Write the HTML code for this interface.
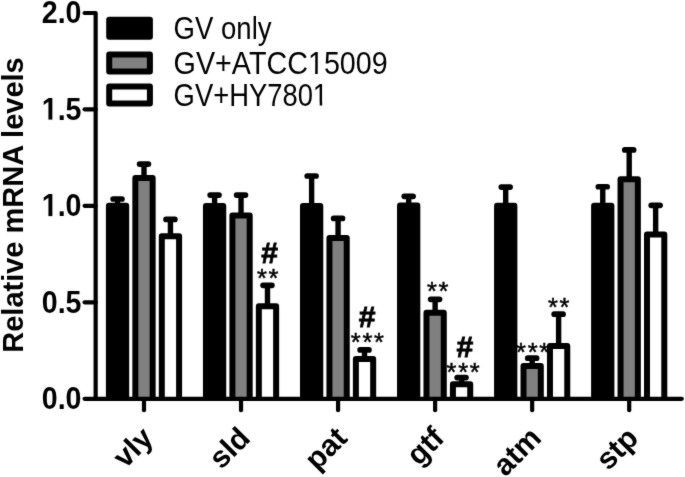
<!DOCTYPE html><html><head><meta charset="utf-8"><style>html,body{margin:0;padding:0;background:#fff;}svg{display:block;}text{font-family:"Liberation Sans",Arial,sans-serif;}</style></head><body>
<svg width="685" height="477" viewBox="0 0 685 477">
<defs><filter id="soft" color-interpolation-filters="sRGB" x="0" y="0" width="685" height="477" filterUnits="userSpaceOnUse"><feConvolveMatrix order="3" kernelMatrix="0.02 0.06 0.02 0.06 0.68 0.06 0.02 0.06 0.02" edgeMode="duplicate"/></filter></defs>
<rect width="685" height="477" fill="#fff"/>
<g filter="url(#soft)">
<line x1="117.55" y1="205.70" x2="117.55" y2="199.00" stroke="#000" stroke-width="5.4"/>
<line x1="113.15" y1="199.00" x2="121.95" y2="199.00" stroke="#000" stroke-width="5.7" stroke-linecap="round"/>
<path d="M108.90 398.8 V205.70 H126.20 V398.8 Z" fill="#000" stroke="none"/>
<path d="M108.90 398.8 V205.70 H126.20 V398.8" fill="none" stroke="#000" stroke-width="6.0" stroke-linejoin="round"/>
<line x1="144.00" y1="178.10" x2="144.00" y2="164.05" stroke="#000" stroke-width="5.4"/>
<line x1="139.60" y1="164.05" x2="148.40" y2="164.05" stroke="#000" stroke-width="5.7" stroke-linecap="round"/>
<path d="M135.35 398.8 V178.10 H152.65 V398.8 Z" fill="#808080" stroke="none"/>
<path d="M135.35 398.8 V178.10 H152.65 V398.8" fill="none" stroke="#000" stroke-width="6.0" stroke-linejoin="round"/>
<line x1="170.45" y1="236.30" x2="170.45" y2="219.40" stroke="#000" stroke-width="5.4"/>
<line x1="166.05" y1="219.40" x2="174.85" y2="219.40" stroke="#000" stroke-width="5.7" stroke-linecap="round"/>
<path d="M161.80 398.8 V236.30 H179.10 V398.8 Z" fill="#fff" stroke="none"/>
<path d="M161.80 398.8 V236.30 H179.10 V398.8" fill="none" stroke="#000" stroke-width="6.0" stroke-linejoin="round"/>
<line x1="214.59" y1="205.90" x2="214.59" y2="195.10" stroke="#000" stroke-width="5.4"/>
<line x1="210.19" y1="195.10" x2="218.99" y2="195.10" stroke="#000" stroke-width="5.7" stroke-linecap="round"/>
<path d="M205.94 398.8 V205.90 H223.24 V398.8 Z" fill="#000" stroke="none"/>
<path d="M205.94 398.8 V205.90 H223.24 V398.8" fill="none" stroke="#000" stroke-width="6.0" stroke-linejoin="round"/>
<line x1="241.04" y1="215.40" x2="241.04" y2="195.10" stroke="#000" stroke-width="5.4"/>
<line x1="236.64" y1="195.10" x2="245.44" y2="195.10" stroke="#000" stroke-width="5.7" stroke-linecap="round"/>
<path d="M232.39 398.8 V215.40 H249.69 V398.8 Z" fill="#808080" stroke="none"/>
<path d="M232.39 398.8 V215.40 H249.69 V398.8" fill="none" stroke="#000" stroke-width="6.0" stroke-linejoin="round"/>
<line x1="267.49" y1="306.20" x2="267.49" y2="285.35" stroke="#000" stroke-width="5.4"/>
<line x1="263.09" y1="285.35" x2="271.89" y2="285.35" stroke="#000" stroke-width="5.7" stroke-linecap="round"/>
<path d="M258.84 398.8 V306.20 H276.14 V398.8 Z" fill="#fff" stroke="none"/>
<path d="M258.84 398.8 V306.20 H276.14 V398.8" fill="none" stroke="#000" stroke-width="6.0" stroke-linejoin="round"/>
<line x1="311.63" y1="206.00" x2="311.63" y2="176.00" stroke="#000" stroke-width="5.4"/>
<line x1="307.23" y1="176.00" x2="316.03" y2="176.00" stroke="#000" stroke-width="5.7" stroke-linecap="round"/>
<path d="M302.98 398.8 V206.00 H320.28 V398.8 Z" fill="#000" stroke="none"/>
<path d="M302.98 398.8 V206.00 H320.28 V398.8" fill="none" stroke="#000" stroke-width="6.0" stroke-linejoin="round"/>
<line x1="338.08" y1="238.00" x2="338.08" y2="218.40" stroke="#000" stroke-width="5.4"/>
<line x1="333.68" y1="218.40" x2="342.48" y2="218.40" stroke="#000" stroke-width="5.7" stroke-linecap="round"/>
<path d="M329.43 398.8 V238.00 H346.73 V398.8 Z" fill="#808080" stroke="none"/>
<path d="M329.43 398.8 V238.00 H346.73 V398.8" fill="none" stroke="#000" stroke-width="6.0" stroke-linejoin="round"/>
<line x1="364.53" y1="359.10" x2="364.53" y2="349.90" stroke="#000" stroke-width="5.4"/>
<line x1="360.13" y1="349.90" x2="368.93" y2="349.90" stroke="#000" stroke-width="5.7" stroke-linecap="round"/>
<path d="M355.88 398.8 V359.10 H373.18 V398.8 Z" fill="#fff" stroke="none"/>
<path d="M355.88 398.8 V359.10 H373.18 V398.8" fill="none" stroke="#000" stroke-width="6.0" stroke-linejoin="round"/>
<line x1="408.67" y1="205.60" x2="408.67" y2="196.30" stroke="#000" stroke-width="5.4"/>
<line x1="404.27" y1="196.30" x2="413.07" y2="196.30" stroke="#000" stroke-width="5.7" stroke-linecap="round"/>
<path d="M400.02 398.8 V205.60 H417.32 V398.8 Z" fill="#000" stroke="none"/>
<path d="M400.02 398.8 V205.60 H417.32 V398.8" fill="none" stroke="#000" stroke-width="6.0" stroke-linejoin="round"/>
<line x1="435.12" y1="312.80" x2="435.12" y2="299.35" stroke="#000" stroke-width="5.4"/>
<line x1="430.72" y1="299.35" x2="439.52" y2="299.35" stroke="#000" stroke-width="5.7" stroke-linecap="round"/>
<path d="M426.47 398.8 V312.80 H443.77 V398.8 Z" fill="#808080" stroke="none"/>
<path d="M426.47 398.8 V312.80 H443.77 V398.8" fill="none" stroke="#000" stroke-width="6.0" stroke-linejoin="round"/>
<line x1="461.57" y1="384.30" x2="461.57" y2="377.55" stroke="#000" stroke-width="5.4"/>
<line x1="457.17" y1="377.55" x2="465.97" y2="377.55" stroke="#000" stroke-width="5.7" stroke-linecap="round"/>
<path d="M452.92 398.8 V384.30 H470.22 V398.8 Z" fill="#fff" stroke="none"/>
<path d="M452.92 398.8 V384.30 H470.22 V398.8" fill="none" stroke="#000" stroke-width="6.0" stroke-linejoin="round"/>
<line x1="505.71" y1="205.70" x2="505.71" y2="187.10" stroke="#000" stroke-width="5.4"/>
<line x1="501.31" y1="187.10" x2="510.11" y2="187.10" stroke="#000" stroke-width="5.7" stroke-linecap="round"/>
<path d="M497.06 398.8 V205.70 H514.36 V398.8 Z" fill="#000" stroke="none"/>
<path d="M497.06 398.8 V205.70 H514.36 V398.8" fill="none" stroke="#000" stroke-width="6.0" stroke-linejoin="round"/>
<line x1="532.16" y1="365.90" x2="532.16" y2="358.20" stroke="#000" stroke-width="5.4"/>
<line x1="527.76" y1="358.20" x2="536.56" y2="358.20" stroke="#000" stroke-width="5.7" stroke-linecap="round"/>
<path d="M523.51 398.8 V365.90 H540.81 V398.8 Z" fill="#808080" stroke="none"/>
<path d="M523.51 398.8 V365.90 H540.81 V398.8" fill="none" stroke="#000" stroke-width="6.0" stroke-linejoin="round"/>
<line x1="558.61" y1="346.00" x2="558.61" y2="314.20" stroke="#000" stroke-width="5.4"/>
<line x1="554.21" y1="314.20" x2="563.01" y2="314.20" stroke="#000" stroke-width="5.7" stroke-linecap="round"/>
<path d="M549.96 398.8 V346.00 H567.26 V398.8 Z" fill="#fff" stroke="none"/>
<path d="M549.96 398.8 V346.00 H567.26 V398.8" fill="none" stroke="#000" stroke-width="6.0" stroke-linejoin="round"/>
<line x1="602.75" y1="205.80" x2="602.75" y2="186.75" stroke="#000" stroke-width="5.4"/>
<line x1="598.35" y1="186.75" x2="607.15" y2="186.75" stroke="#000" stroke-width="5.7" stroke-linecap="round"/>
<path d="M594.10 398.8 V205.80 H611.40 V398.8 Z" fill="#000" stroke="none"/>
<path d="M594.10 398.8 V205.80 H611.40 V398.8" fill="none" stroke="#000" stroke-width="6.0" stroke-linejoin="round"/>
<line x1="629.20" y1="179.30" x2="629.20" y2="149.90" stroke="#000" stroke-width="5.4"/>
<line x1="624.80" y1="149.90" x2="633.60" y2="149.90" stroke="#000" stroke-width="5.7" stroke-linecap="round"/>
<path d="M620.55 398.8 V179.30 H637.85 V398.8 Z" fill="#808080" stroke="none"/>
<path d="M620.55 398.8 V179.30 H637.85 V398.8" fill="none" stroke="#000" stroke-width="6.0" stroke-linejoin="round"/>
<line x1="655.65" y1="234.60" x2="655.65" y2="205.30" stroke="#000" stroke-width="5.4"/>
<line x1="651.25" y1="205.30" x2="660.05" y2="205.30" stroke="#000" stroke-width="5.7" stroke-linecap="round"/>
<path d="M647.00 398.8 V234.60 H664.30 V398.8 Z" fill="#fff" stroke="none"/>
<path d="M647.00 398.8 V234.60 H664.30 V398.8" fill="none" stroke="#000" stroke-width="6.0" stroke-linejoin="round"/>
<path d="M84.6 13.0 H95.65 V398.8 H681.8" fill="none" stroke="#000" stroke-width="4.2" stroke-linecap="round" stroke-linejoin="round"/>
<line x1="84.6" y1="109.30" x2="95.65" y2="109.30" stroke="#000" stroke-width="4.2" stroke-linecap="round"/>
<line x1="84.6" y1="205.80" x2="95.65" y2="205.80" stroke="#000" stroke-width="4.2" stroke-linecap="round"/>
<line x1="84.6" y1="302.30" x2="95.65" y2="302.30" stroke="#000" stroke-width="4.2" stroke-linecap="round"/>
<line x1="84.6" y1="398.80" x2="95.65" y2="398.80" stroke="#000" stroke-width="4.2" stroke-linecap="round"/>
<line x1="144.00" y1="398.8" x2="144.00" y2="410.2" stroke="#000" stroke-width="4.2" stroke-linecap="round"/>
<line x1="241.04" y1="398.8" x2="241.04" y2="410.2" stroke="#000" stroke-width="4.2" stroke-linecap="round"/>
<line x1="338.08" y1="398.8" x2="338.08" y2="410.2" stroke="#000" stroke-width="4.2" stroke-linecap="round"/>
<line x1="435.12" y1="398.8" x2="435.12" y2="410.2" stroke="#000" stroke-width="4.2" stroke-linecap="round"/>
<line x1="532.16" y1="398.8" x2="532.16" y2="410.2" stroke="#000" stroke-width="4.2" stroke-linecap="round"/>
<line x1="629.20" y1="398.8" x2="629.20" y2="410.2" stroke="#000" stroke-width="4.2" stroke-linecap="round"/>
<text transform="translate(81.5,23.10) scale(1,1.08)" x="0" y="0" font-size="28.6" font-weight="bold" text-anchor="end">2.0</text>
<text transform="translate(81.5,119.60) scale(1,1.08)" x="0" y="0" font-size="28.6" font-weight="bold" text-anchor="end">1.5</text>
<text transform="translate(81.5,216.10) scale(1,1.08)" x="0" y="0" font-size="28.6" font-weight="bold" text-anchor="end">1.0</text>
<text transform="translate(81.5,312.60) scale(1,1.08)" x="0" y="0" font-size="28.6" font-weight="bold" text-anchor="end">0.5</text>
<text transform="translate(81.5,409.10) scale(1,1.08)" x="0" y="0" font-size="28.6" font-weight="bold" text-anchor="end">0.0</text>
<text transform="translate(23.3,205.0) rotate(-90) scale(1,1.04)" x="0" y="0" font-size="29.0" font-weight="bold" text-anchor="middle">Relative mRNA levels</text>
<text transform="translate(154.80,439.7) rotate(-45)" x="0" y="0" font-size="30" font-weight="bold" text-anchor="end">vly</text>
<text transform="translate(251.84,439.7) rotate(-45)" x="0" y="0" font-size="30" font-weight="bold" text-anchor="end">sld</text>
<text transform="translate(348.88,439.7) rotate(-45)" x="0" y="0" font-size="30" font-weight="bold" text-anchor="end">pat</text>
<text transform="translate(445.92,439.7) rotate(-45)" x="0" y="0" font-size="30" font-weight="bold" text-anchor="end">gtf</text>
<text transform="translate(542.96,439.7) rotate(-45)" x="0" y="0" font-size="30" font-weight="bold" text-anchor="end">atm</text>
<text transform="translate(640.00,439.7) rotate(-45)" x="0" y="0" font-size="30" font-weight="bold" text-anchor="end">stp</text>
<text x="269.75" y="262.90" font-size="30.2" font-weight="bold" stroke="#000" stroke-width="0.8" text-anchor="middle">#</text>
<text x="268.55" y="287.20" font-size="25.5" letter-spacing="1.6" stroke="#000" stroke-width="0.45" text-anchor="middle">**</text>
<text x="367.15" y="327.10" font-size="30.2" font-weight="bold" stroke="#000" stroke-width="0.8" text-anchor="middle">#</text>
<text x="368.15" y="350.60" font-size="25.5" letter-spacing="1.6" stroke="#000" stroke-width="0.45" text-anchor="middle">***</text>
<text x="438.45" y="300.20" font-size="25.5" letter-spacing="1.6" stroke="#000" stroke-width="0.45" text-anchor="middle">**</text>
<text x="464.95" y="357.30" font-size="30.2" font-weight="bold" stroke="#000" stroke-width="0.8" text-anchor="middle">#</text>
<text x="463.90" y="381.30" font-size="25.5" letter-spacing="1.6" stroke="#000" stroke-width="0.45" text-anchor="middle">***</text>
<text x="533.40" y="360.60" font-size="25.5" letter-spacing="1.6" stroke="#000" stroke-width="0.45" text-anchor="middle">***</text>
<text x="559.60" y="315.90" font-size="25.5" letter-spacing="1.6" stroke="#000" stroke-width="0.45" text-anchor="middle">**</text>
<rect x="109.20" y="19.80" width="40.70" height="17.00" fill="#000" stroke="#000" stroke-width="6.0" stroke-linejoin="round"/>
<text x="173.6" y="39.0" font-size="30.5" textLength="98" lengthAdjust="spacingAndGlyphs">GV only</text>
<rect x="109.20" y="54.50" width="40.70" height="17.10" fill="#808080" stroke="#000" stroke-width="6.0" stroke-linejoin="round"/>
<text x="173.6" y="74.0" font-size="30.5" textLength="214.2" lengthAdjust="spacingAndGlyphs">GV+ATCC15009</text>
<rect x="109.20" y="86.60" width="40.70" height="17.00" fill="#fff" stroke="#000" stroke-width="6.0" stroke-linejoin="round"/>
<text x="173.6" y="105.5" font-size="30.5" textLength="154.5" lengthAdjust="spacingAndGlyphs">GV+HY7801</text>
<rect x="42.33" y="115" width="15.72" height="6.10" fill="#fff"/>
<rect x="48.421" y="115" width="3.945" height="4.600" fill="#000"/>
<rect x="42.33" y="212" width="15.72" height="5.60" fill="#fff"/>
<rect x="48.421" y="212" width="3.945" height="4.100" fill="#000"/>
<rect x="309.07" y="71" width="14.65" height="4.50" fill="#fff"/>
<rect x="315.132" y="71" width="2.557" height="3.000" fill="#000"/>
<rect x="313.95" y="102" width="13.98" height="5.00" fill="#fff"/>
<rect x="319.734" y="102" width="2.440" height="3.500" fill="#000"/>
</g>
</svg></body></html>
